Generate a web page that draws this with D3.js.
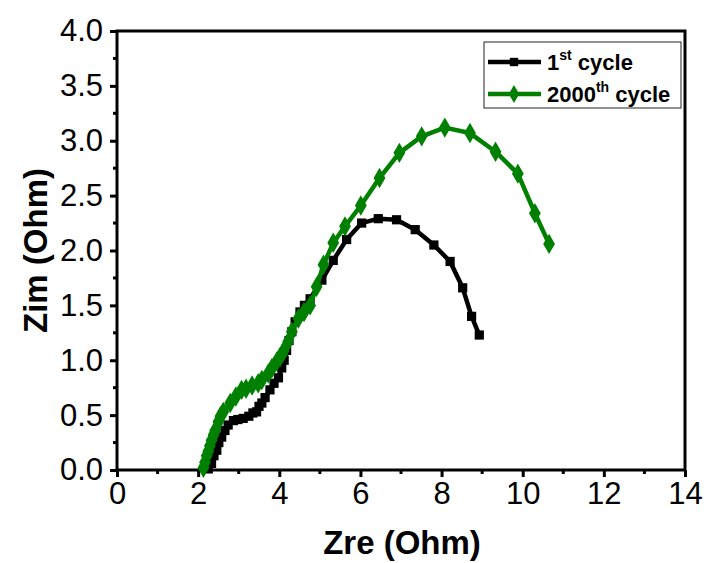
<!DOCTYPE html>
<html>
<head>
<meta charset="utf-8">
<script src="https://cdn.jsdelivr.net/npm/d3@7"></script>
<style>
  html, body { margin: 0; padding: 0; background: #fff; }
  svg { display: block; font-family: "Liberation Sans", Arial, sans-serif; }
</style>
</head>
<body>
<svg id="chart" width="709" height="563"></svg>
<script>
// Nyquist data: Zre (Ohm) and Zim (Ohm) for the two cycles
const cycle1Zre = [2.25, 2.33, 2.39, 2.46, 2.51, 2.58, 2.66, 2.74, 2.87, 2.98, 3.11, 3.25, 3.35, 3.44, 3.50, 3.57, 3.65, 3.77, 3.87, 3.98, 4.06, 4.12, 4.18, 4.24, 4.31, 4.39, 4.51, 4.62, 4.76, 5.05, 5.33, 5.66, 6.03, 6.44, 6.89, 7.35, 7.81, 8.21, 8.52, 8.74, 8.93];
const cycle1Zim = [0.01, 0.06, 0.13, 0.18, 0.25, 0.30, 0.36, 0.41, 0.45, 0.46, 0.47, 0.49, 0.52, 0.53, 0.58, 0.61, 0.66, 0.73, 0.79, 0.84, 0.93, 1.00, 1.09, 1.18, 1.26, 1.35, 1.44, 1.50, 1.56, 1.73, 1.91, 2.10, 2.25, 2.29, 2.28, 2.19, 2.05, 1.90, 1.66, 1.40, 1.23];

const cycle2000Zre = [2.13, 2.17, 2.21, 2.25, 2.29, 2.33, 2.38, 2.42, 2.50, 2.55, 2.62, 2.79, 2.93, 3.07, 3.18, 3.33, 3.48, 3.57, 3.73, 3.82, 3.94, 4.02, 4.10, 4.22, 4.31, 4.47, 4.61, 4.76, 4.92, 5.09, 5.33, 5.62, 6.01, 6.47, 6.96, 7.51, 8.08, 8.70, 9.33, 9.88, 10.30, 10.65];
const cycle2000Zim = [0.02, 0.07, 0.13, 0.17, 0.22, 0.27, 0.32, 0.36, 0.44, 0.49, 0.53, 0.61, 0.67, 0.73, 0.74, 0.77, 0.79, 0.82, 0.88, 0.93, 0.99, 1.03, 1.08, 1.17, 1.26, 1.38, 1.44, 1.50, 1.67, 1.87, 2.07, 2.22, 2.41, 2.66, 2.89, 3.04, 3.12, 3.07, 2.90, 2.70, 2.34, 2.06];

const xTicks = [0, 2, 4, 6, 8, 10, 12, 14];
const yTicks = [0.0, 0.5, 1.0, 1.5, 2.0, 2.5, 3.0, 3.5, 4.0];
const xTitle = "Zre (Ohm)";
const yTitle = "Zim (Ohm)";

const svg = d3.select("#chart");
const plot = { left: 117, right: 685, top: 31, bottom: 470 };

const x = d3.scaleLinear().domain([0, 14]).range([plot.left, plot.right]);
const y = d3.scaleLinear().domain([0, 4]).range([plot.bottom, plot.top]);

// minor ticks
const xMinor = d3.range(0, 14.01, 1).filter(v => !xTicks.includes(v));
const yMinor = d3.range(0, 4.01, 0.25).filter(v => !yTicks.some(t => Math.abs(t - v) < 1e-6));

const xAxis = d3.axisBottom(x).tickValues(xTicks).tickFormat(d3.format("d")).tickSizeOuter(0).tickSize(7).tickPadding(5);
const yAxis = d3.axisLeft(y).tickValues(yTicks).tickFormat(d3.format(".1f")).tickSizeOuter(0).tickSize(7).tickPadding(7);

const gx = svg.append("g").attr("transform", `translate(0,${plot.bottom})`).call(xAxis);
const gy = svg.append("g").attr("transform", `translate(${plot.left},0)`).call(yAxis);

[gx, gy].forEach(g => {
  g.select(".domain").remove();
  g.selectAll(".tick line").attr("stroke", "#000").attr("stroke-width", 3);
  g.selectAll(".tick text").attr("fill", "#000").attr("font-size", 31);
});

svg.append("g").selectAll("line").data(xMinor).join("line")
  .attr("x1", d => x(d)).attr("x2", d => x(d))
  .attr("y1", plot.bottom).attr("y2", plot.bottom + 4)
  .attr("stroke", "#000").attr("stroke-width", 3);
svg.append("g").selectAll("line").data(yMinor).join("line")
  .attr("x1", plot.left - 4).attr("x2", plot.left)
  .attr("y1", d => y(d)).attr("y2", d => y(d))
  .attr("stroke", "#000").attr("stroke-width", 3);

// frame
svg.append("rect")
  .attr("x", plot.left).attr("y", plot.top)
  .attr("width", plot.right - plot.left).attr("height", plot.bottom - plot.top)
  .attr("fill", "none").attr("stroke", "#000").attr("stroke-width", 3);

// axis titles
svg.append("text")
  .attr("x", 402).attr("y", 554)
  .attr("text-anchor", "middle").attr("font-size", 33).attr("font-weight", "bold")
  .text(xTitle);
svg.append("text")
  .attr("transform", `translate(47,${(plot.top + plot.bottom) / 2}) rotate(-90)`)
  .attr("text-anchor", "middle").attr("font-size", 33).attr("font-weight", "bold")
  .text(yTitle);

// series
const series = [
  { zre: cycle1Zre, zim: cycle1Zim, color: "#000000", marker: d3.symbolSquare, size: 85 },
  { zre: cycle2000Zre, zim: cycle2000Zim, color: "#008000", marker: d3.symbolDiamond, size: 120 }
];

const line = d3.line().x(d => x(d[0])).y(d => y(d[1]));

series.forEach(s => {
  const pts = s.zre.map((v, i) => [v, s.zim[i]]);
  const g = svg.append("g");
  g.append("path").datum(pts)
    .attr("d", line).attr("fill", "none")
    .attr("stroke", s.color).attr("stroke-width", 4.5)
    .attr("stroke-linejoin", "round");
  g.selectAll("path.m").data(pts).join("path")
    .attr("class", "m")
    .attr("d", d3.symbol().type(s.marker).size(s.size))
    .attr("transform", d => `translate(${x(d[0])},${y(d[1])})`)
    .attr("fill", s.color);
});

// legend
const legend = svg.append("g");
legend.append("rect")
  .attr("x", 484).attr("y", 42).attr("width", 197).attr("height", 66)
  .attr("fill", "#fff").attr("stroke", "#222").attr("stroke-width", 1);

const legendItems = [
  { color: "#000000", marker: d3.symbolSquare, size: 70, num: "1", sup: "st", rest: " cycle", yy: 62 },
  { color: "#008000", marker: d3.symbolDiamond, size: 95, num: "2000", sup: "th", rest: " cycle", yy: 94 }
];
legendItems.forEach(it => {
  legend.append("line")
    .attr("x1", 488).attr("x2", 541).attr("y1", it.yy).attr("y2", it.yy)
    .attr("stroke", it.color).attr("stroke-width", 4.5);
  legend.append("path")
    .attr("d", d3.symbol().type(it.marker).size(it.size))
    .attr("transform", `translate(514,${it.yy})`)
    .attr("fill", it.color);
  const t = legend.append("text")
    .attr("x", 547).attr("y", it.yy + 8)
    .attr("font-size", 22).attr("font-weight", "bold").attr("fill", "#000");
  t.append("tspan").text(it.num);
  t.append("tspan").attr("font-size", 14).attr("dy", -10).text(it.sup);
  t.append("tspan").attr("dy", 10).text(it.rest);
});
</script>
</body>
</html>
